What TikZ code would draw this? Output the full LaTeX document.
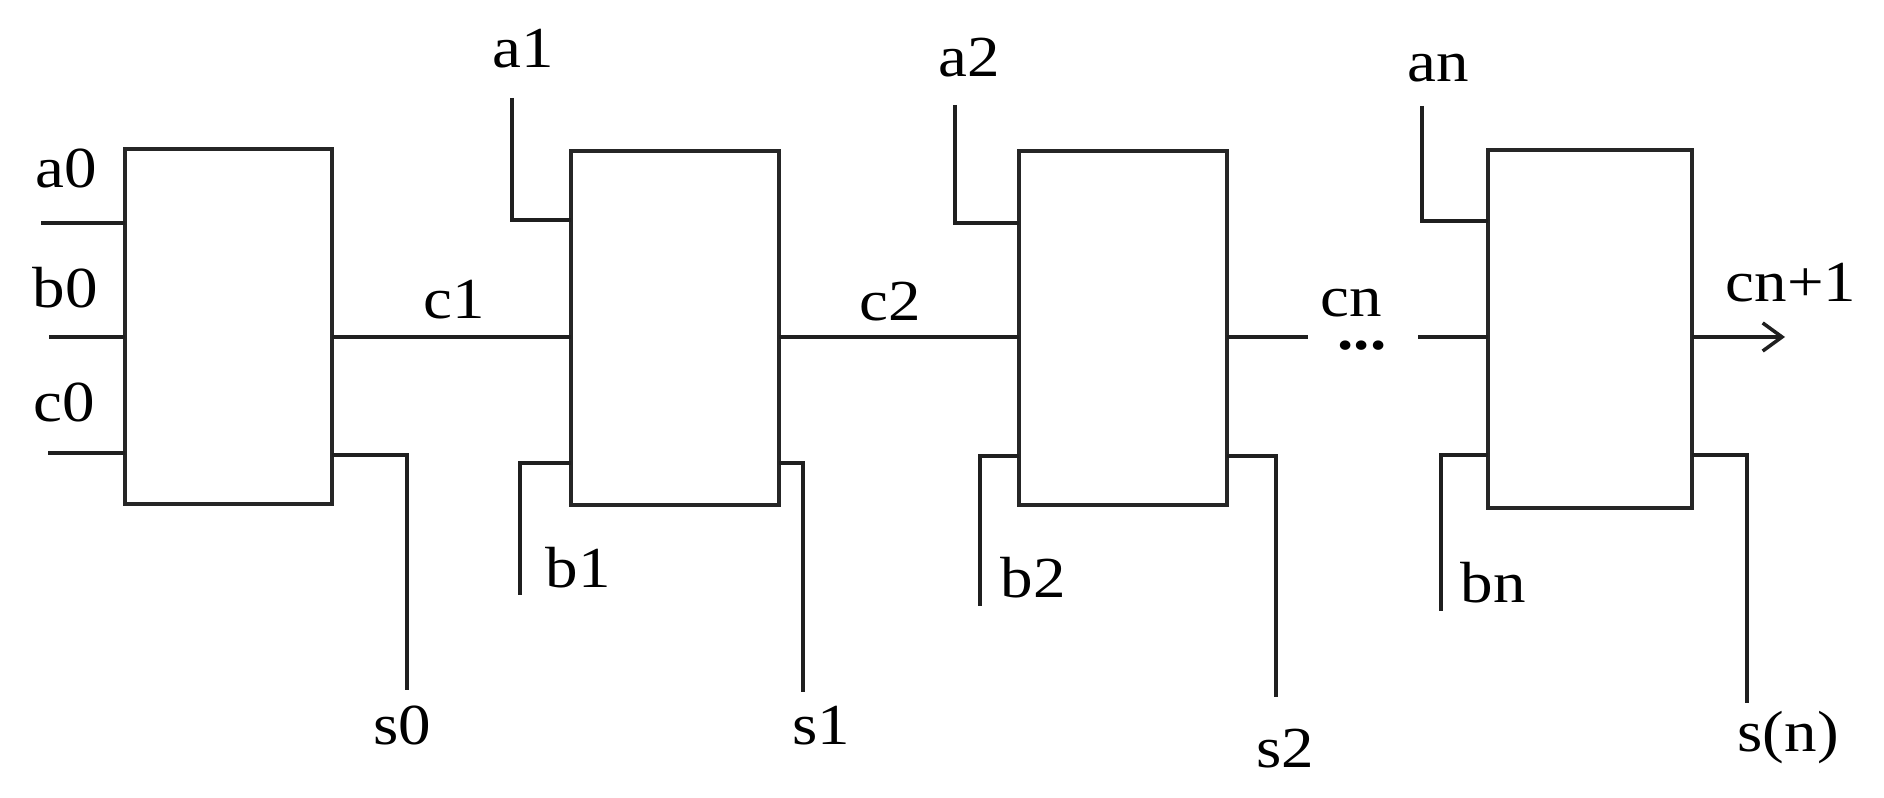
\documentclass[tikz,border=0pt]{standalone}
\usepackage{fontspec}
\setmainfont{Liberation Serif}[FakeStretch=1.12]
\usetikzlibrary{arrows.meta}
\begin{document}
\begin{tikzpicture}[x=0.01cm,y=-0.01cm,
  blk/.style={draw=black!85,line width=1.25pt,inner sep=0pt,outer sep=0pt},
  wire/.style={draw=black!88,line width=1.05pt},
  lbl/.style={inner sep=0pt,anchor=base west,font=\fontsize{16.5}{18}\selectfont}]
\useasboundingbox[fill=white] (0,0) rectangle (1884,798);
% boxes
\node[blk,minimum width=2.07cm,minimum height=3.55cm] (B0) at (228.5,326.5) {};
\node[blk,minimum width=2.08cm,minimum height=3.54cm] (B1) at (675,328) {};
\node[blk,minimum width=2.08cm,minimum height=3.54cm] (B2) at (1123,328) {};
\node[blk,minimum width=2.04cm,minimum height=3.58cm] (B3) at (1590,329) {};
\coordinate (m) at (0,337);
% free ends
\coordinate (a0i) at (41,223);
\coordinate (b0i) at (49,337);
\coordinate (c0i) at (48,453);
\coordinate (s0e) at (407,690);
\coordinate (a1e) at (512,98);
\coordinate (b1e) at (520,595);
\coordinate (s1e) at (803,692);
\coordinate (a2e) at (955,105);
\coordinate (b2e) at (980,606);
\coordinate (s2e) at (1276,697);
\coordinate (cnA) at (1308,337);
\coordinate (cnB) at (1418,337);
\coordinate (ane) at (1422,106);
\coordinate (bne) at (1441,611);
\coordinate (sne) at (1747,703);
\coordinate (coe) at (1785,337);
% block 0
\draw[wire] (a0i) -- (a0i -| B0.west);
\draw[wire] (b0i) -- (b0i -| B0.west);
\draw[wire] (c0i) -- (c0i -| B0.west);
\draw[wire] (B0.east |- 0,455) -| (s0e);
\draw[wire] (B0.east |- m) -- (B1.west |- m);
% block 1
\draw[wire] (a1e) |- (B1.west |- 0,220);
\draw[wire] (B1.west |- 0,463) -| (b1e);
\draw[wire] (B1.east |- 0,463) -| (s1e);
\draw[wire] (B1.east |- m) -- (B2.west |- m);
% block 2
\draw[wire] (a2e) |- (B2.west |- 0,223);
\draw[wire] (B2.west |- 0,456) -| (b2e);
\draw[wire] (B2.east |- 0,456) -| (s2e);
\draw[wire] (B2.east |- m) -- (cnA);
\draw[wire] (cnB) -- (B3.west |- m);
% block n
\draw[wire] (ane) |- (B3.west |- 0,221);
\draw[wire] (B3.west |- 0,455) -| (bne);
\draw[wire] (B3.east |- 0,455) -| (sne);
\draw[wire,-{Straight Barb[length=5.5pt,width=8pt,line width=1pt]}] (B3.east |- m) -- (coe);
% labels
\node[lbl] (La0) at (35,188) {a0};
\node[lbl] (Lb0) at (32,308) {b0};
\node[lbl] (Lc0) at (33,422) {c0};
\node[lbl] (Ls0) at (373,745) {s0};
\node[lbl] (Lc1) at (423,319) {c1};
\node[lbl] (La1) at (492,68) {a1};
\node[lbl] (Lb1) at (545,588) {b1};
\node[lbl] (Ls1) at (792,745) {s1};
\node[lbl] (Lc2) at (859,321) {c2};
\node[lbl] (La2) at (938,77) {a2};
\node[lbl] (Lb2) at (1000,598) {b2};
\node[lbl] (Ls2) at (1256,768) {s2};
\node[lbl] (Lcn) at (1320,317) {cn};
\node[lbl,text height=0.25em,font=\fontsize{16.5}{18}\selectfont\bfseries] (Ldots) at (1337,350) {...};
\node[lbl] (Lan) at (1407,82) {an};
\node[lbl] (Lbn) at (1460,603) {bn};
\node[lbl] (Lsn) at (1737,752) {s(n)};
\node[lbl] (Lco) at (1725,302) {cn+1};
\end{tikzpicture}
\end{document}
